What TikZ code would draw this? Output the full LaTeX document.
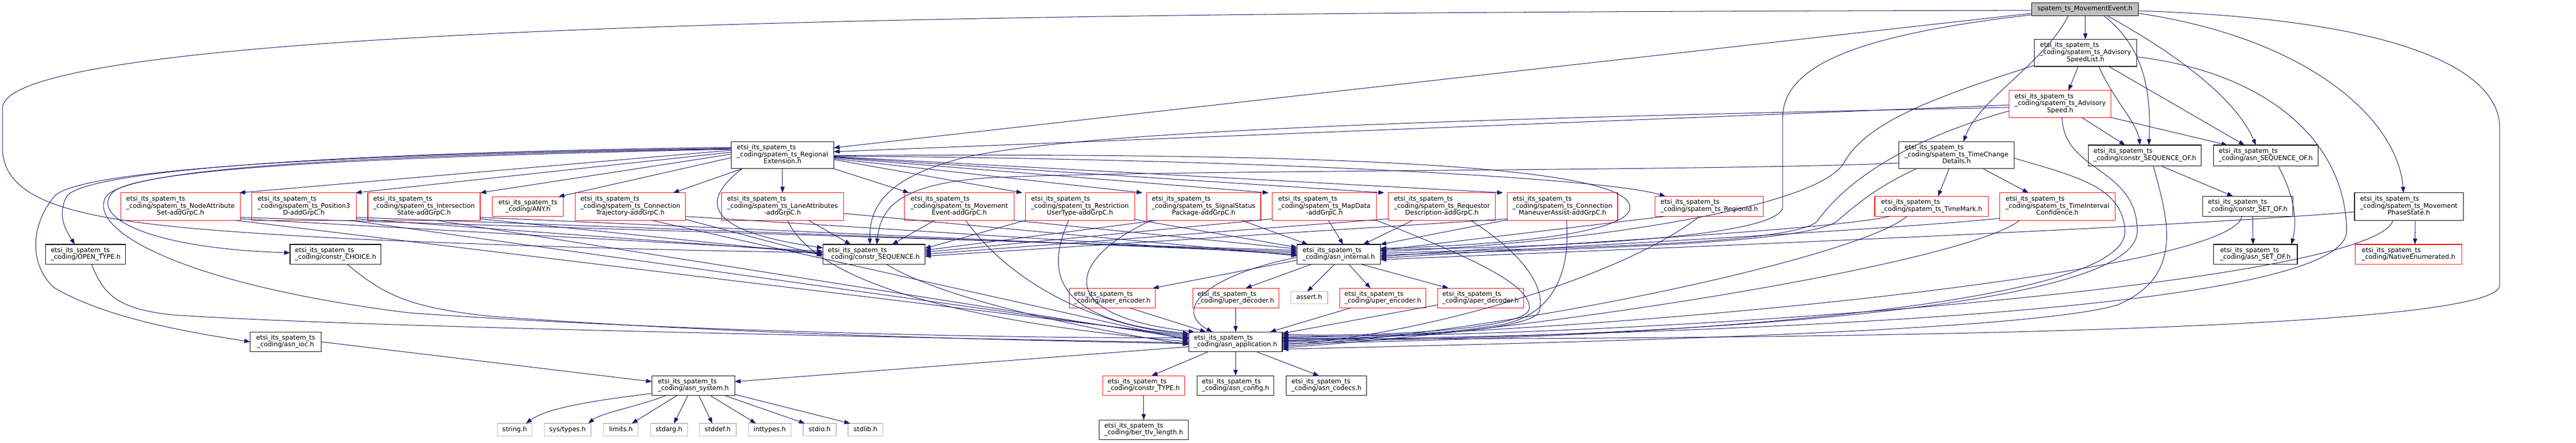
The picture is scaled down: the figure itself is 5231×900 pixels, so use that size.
\documentclass[tikz,border=0pt]{standalone}
\usepackage{fontspec}
\setmainfont{DejaVu Sans}
\usetikzlibrary{arrows.meta,calc}
\definecolor{edgec}{HTML}{191970}
\definecolor{redc}{HTML}{FF0000}
\definecolor{grayc}{HTML}{BFBFBF}
\newcommand\etsi{etsi\_its\_spatem\_ts}
\newcommand\lblone[1]{\begin{tabular}{@{}c@{}}#1\end{tabular}}
\newcommand\lbltwo[2]{\begin{tabular}{@{}l@{}}#1\\\multicolumn{1}{@{}c@{}}{#2}\end{tabular}}
\newcommand\lblthree[3]{\begin{tabular}{@{}l@{}}#1\\#2\\\multicolumn{1}{@{}c@{}}{#3}\end{tabular}}
\newcommand\bx[7]{\node[#6, minimum width={(#4-#2)*0.75pt}, minimum height={(#5-#3)*0.75pt}] (#1) at ({(#2+#4)/2},{(#3+#5)/2}) {#7};}
\tikzset{
  base/.style={rectangle, draw, inner sep=0pt, outer sep=0pt, line width=0.9pt,
    font=\fontsize{9.8}{10.65}\selectfont},
  blk/.style={base, draw=black},
  redb/.style={base, draw=redc},
  grayb/.style={base, draw=grayc},
  rootb/.style={base, draw=black, fill=grayc},
  edge/.style={draw=edgec, line width=0.8pt, -{Triangle[length=9pt,width=6.5pt]}},
}
\begin{document}
\begin{tikzpicture}[x=0.75pt,y=-0.75pt]
\fill[white] (0,0) rectangle (5231,900);
\useasboundingbox (0,0) rectangle (5231,900);
% rank 0-3
\bx{root}{4126}{6}{4342}{32}{rootb}{\lblone{spatem\_ts\_MovementEvent.h}}
\bx{asl}{4131}{80}{4339}{135}{blk}{\lblthree{\etsi}{\_coding/spatem\_ts\_Advisory}{SpeedList.h}}
\bx{as}{4080}{184}{4287}{239}{redb}{\lblthree{\etsi}{\_coding/spatem\_ts\_Advisory}{Speed.h}}
\bx{rext}{1485}{288}{1693}{343}{blk}{\lblthree{\etsi}{\_coding/spatem\_ts\_Regional}{Extension.h}}
\bx{tcd}{3856}{288}{4090}{343}{blk}{\lblthree{\etsi}{\_coding/spatem\_ts\_TimeChange}{Details.h}}
\bx{csqof}{4241}{295}{4470}{337}{blk}{\lbltwo{\etsi}{\_coding/constr\_SEQUENCE\_OF.h}}
\bx{asqof}{4495}{295}{4707}{337}{blk}{\lbltwo{\etsi}{\_coding/asn\_SEQUENCE\_OF.h}}
% rank 4
\bx{nas}{245}{392}{488}{448}{redb}{\lblthree{\etsi}{\_coding/spatem\_ts\_NodeAttribute}{Set-addGrpC.h}}
\bx{p3d}{511}{392}{723}{448}{redb}{\lblthree{\etsi}{\_coding/spatem\_ts\_Position3}{D-addGrpC.h}}
\bx{iss}{747}{392}{975}{448}{redb}{\lblthree{\etsi}{\_coding/spatem\_ts\_Intersection}{State-addGrpC.h}}
\bx{any}{1000}{400}{1144}{440}{redb}{\lbltwo{\etsi}{\_coding/ANY.h}}
\bx{ctr}{1168}{392}{1392}{448}{redb}{\lblthree{\etsi}{\_coding/spatem\_ts\_Connection}{Trajectory-addGrpC.h}}
\bx{lat}{1465}{392}{1713}{448}{redb}{\lblthree{\etsi}{\_coding/spatem\_ts\_LaneAttributes}{-addGrpC.h}}
\bx{mev}{1837}{392}{2059}{448}{redb}{\lblthree{\etsi}{\_coding/spatem\_ts\_Movement}{Event-addGrpC.h}}
\bx{rut}{2082}{392}{2304}{448}{redb}{\lblthree{\etsi}{\_coding/spatem\_ts\_Restriction}{UserType-addGrpC.h}}
\bx{ssp}{2328}{392}{2560}{448}{redb}{\lblthree{\etsi}{\_coding/spatem\_ts\_SignalStatus}{Package-addGrpC.h}}
\bx{map}{2584}{392}{2795}{448}{redb}{\lblthree{\etsi}{\_coding/spatem\_ts\_MapData}{-addGrpC.h}}
\bx{rqd}{2819}{392}{3037}{448}{redb}{\lblthree{\etsi}{\_coding/spatem\_ts\_Requestor}{Description-addGrpC.h}}
\bx{cma}{3061}{392}{3285}{448}{redb}{\lblthree{\etsi}{\_coding/spatem\_ts\_Connection}{ManeuverAssist-addGrpC.h}}
\bx{rid}{3361}{399}{3581}{440}{redb}{\lbltwo{\etsi}{\_coding/spatem\_ts\_RegionId.h}}
\bx{tmk}{3807}{399}{4038}{440}{redb}{\lbltwo{\etsi}{\_coding/spatem\_ts\_TimeMark.h}}
\bx{tic}{4061}{392}{4295}{448}{redb}{\lblthree{\etsi}{\_coding/spatem\_ts\_TimeInterval}{Confidence.h}}
\bx{csetof}{4473}{399}{4656}{440}{blk}{\lbltwo{\etsi}{\_coding/constr\_SET\_OF.h}}
\bx{mps}{4781}{392}{5002}{448}{blk}{\lblthree{\etsi}{\_coding/spatem\_ts\_Movement}{PhaseState.h}}
% rank 5
\bx{otype}{93}{497}{255}{537}{blk}{\lbltwo{\etsi}{\_coding/OPEN\_TYPE.h}}
\bx{choice}{589}{497}{774}{537}{blk}{\lbltwo{\etsi}{\_coding/constr\_CHOICE.h}}
\bx{cseq}{1671}{497}{1878}{537}{blk}{\lbltwo{\etsi}{\_coding/constr\_SEQUENCE.h}}
\bx{aint}{2634}{497}{2803}{537}{blk}{\lbltwo{\etsi}{\_coding/asn\_internal.h}}
\bx{asetof}{4495}{497}{4665}{537}{blk}{\lbltwo{\etsi}{\_coding/asn\_SET\_OF.h}}
\bx{nenum}{4783}{497}{4999}{537}{redb}{\lbltwo{\etsi}{\_coding/NativeEnumerated.h}}
% rank 6
\bx{aenc}{2171}{586}{2346}{626}{redb}{\lbltwo{\etsi}{\_coding/aper\_encoder.h}}
\bx{udec}{2422}{586}{2597}{626}{redb}{\lbltwo{\etsi}{\_coding/uper\_decoder.h}}
\bx{assert}{2621}{593}{2696}{618}{grayb}{\lblone{assert.h}}
\bx{uenc}{2721}{586}{2895}{626}{redb}{\lbltwo{\etsi}{\_coding/uper\_encoder.h}}
\bx{adec}{2919}{586}{3094}{626}{redb}{\lbltwo{\etsi}{\_coding/aper\_decoder.h}}
% rank 7
\bx{ioc}{508}{675}{652}{715}{blk}{\lbltwo{\etsi}{\_coding/asn\_ioc.h}}
\bx{aapp}{2414}{675}{2604}{715}{blk}{\lbltwo{\etsi}{\_coding/asn\_application.h}}
% rank 8
\bx{asys}{1324}{764}{1492}{804}{blk}{\lbltwo{\etsi}{\_coding/asn\_system.h}}
\bx{ctype}{2239}{764}{2406}{804}{redb}{\lbltwo{\etsi}{\_coding/constr\_TYPE.h}}
\bx{acfg}{2431}{764}{2587}{804}{blk}{\lbltwo{\etsi}{\_coding/asn\_config.h}}
\bx{acod}{2612}{764}{2775}{804}{blk}{\lbltwo{\etsi}{\_coding/asn\_codecs.h}}
% rank 9
\bx{string}{1010}{861}{1080}{887}{grayb}{\lblone{string.h}}
\bx{systypes}{1105}{861}{1200}{887}{grayb}{\lblone{sys/types.h}}
\bx{limits}{1226}{861}{1296}{887}{grayb}{\lblone{limits.h}}
\bx{stdarg}{1321}{861}{1396}{887}{grayb}{\lblone{stdarg.h}}
\bx{stddef}{1420}{861}{1495}{887}{grayb}{\lblone{stddef.h}}
\bx{inttypes}{1520}{861}{1606}{887}{grayb}{\lblone{inttypes.h}}
\bx{stdio}{1631}{861}{1698}{887}{grayb}{\lblone{stdio.h}}
\bx{stdlib}{1722}{861}{1793}{887}{grayb}{\lblone{stdlib.h}}
\bx{bertlv}{2232}{854}{2413}{894}{blk}{\lbltwo{\etsi}{\_coding/ber\_tlv\_length.h}}

% ===== edges: root
\draw[edge] (root) -- (asl);
\draw[edge] ($(root.south)+(-34,0)$) .. controls (4150,130) and (4020,200) .. ($(tcd.north)+(14,0)$);
\draw[edge] ($(root.east)+(0,8)$) .. controls (4700,80) and (4870,250) .. ($(mps.north)+(-11,0)$);
\draw[edge] ($(root.south)+(38,0)$) .. controls (4360,100) and (4368,200) .. ($(csqof.north)+(8,0)$);
\draw[edge] ($(root.south)+(45,0)$) .. controls (4420,110) and (4540,200) .. ($(asqof.north)+(-20,0)$);
\draw[edge] ($(root.west)+(0,8)$) -- ($(rext.east)+(0,-15)$);
\draw[edge] ($(root.west)+(0,2)$) .. controls (2500,25) and (5,30) .. (5,220) -- (5,300) .. controls (5,440) and (250,460) .. (700,485) .. controls (1150,505) and (1450,510) .. ($(cseq.west)+(0,-3)$);
\draw[edge] ($(root.west)+(0,11)$) .. controls (3780,70) and (3620,130) .. (3620,240) -- (3620,420) .. controls (3620,490) and (3050,505) .. ($(aint.east)+(0,-10)$);
\draw[edge] ($(root.east)+(0,3)$) .. controls (4900,40) and (5076,150) .. (5076,260) -- (5076,580) .. controls (5076,680) and (3500,690) .. ($(aapp.east)+(0,-6)$);
% asl
\draw[edge] ($(asl.south)+(-15,0)$) -- ($(as.north)+(17,0)$);
\draw[edge] ($(asl.south)+(27,0)$) .. controls (4290,200) and (4340,250) .. ($(csqof.north)+(-10,0)$);
\draw[edge] ($(asl.south)+(47,0)$) -- ($(asqof.north)+(-43,0)$);
\draw[edge] ($(asl.east)+(0,8)$) .. controls (4620,150) and (4765,300) .. (4765,470) .. controls (4765,640) and (3400,680) .. ($(aapp.east)+(0,-3)$);
\draw[edge] ($(asl.south west)+(0,-2)$) .. controls (3920,200) and (3790,250) .. (3745,330) .. controls (3690,430) and (3150,500) .. ($(aint.east)+(0,-6)$);
% as
\draw[edge] ($(as.west)+(0,2)$) -- ($(rext.east)+(0,-7)$);
\draw[edge] ($(as.west)+(0,7)$) .. controls (3000,240) and (2200,265) .. (1960,320) .. controls (1800,360) and (1765,420) .. ($(cseq.north)+(-8,0)$);
\draw[edge] ($(as.west)+(0,14)$) .. controls (3850,290) and (3740,380) .. (3690,450) .. controls (3640,500) and (3100,505) .. ($(aint.east)+(0,-2)$);
\draw[edge] ($(as.south)+(4,0)$) .. controls (4190,350) and (4340,340) .. (4340,470) .. controls (4340,640) and (3300,685) .. (aapp.east);
\draw[edge] ($(as.south)+(44,0)$) -- ($(csqof.north)+(-40,0)$);
\draw[edge] (as.south east) -- ($(asqof.north)+(-78,0)$);
% tcd
\draw[edge] ($(tcd.south)+(-15,0)$) -- ($(tmk.north)+(13,0)$);
\draw[edge] ($(tcd.south)+(54,0)$) -- ($(tic.north)+(-59,0)$);
\draw[edge] ($(tcd.west)+(0,16)$) .. controls (3500,348) and (2300,345) .. (2000,362) .. controls (1830,375) and (1788,420) .. ($(cseq.north)+(6,0)$);
\draw[edge] ($(tcd.south)+(-81,0)$) .. controls (3810,380) and (3765,420) .. (3730,450) .. controls (3660,500) and (3100,508) .. ($(aint.east)+(0,2)$);
\draw[edge] ($(tcd.east)+(0,6)$) .. controls (4220,360) and (4310,380) .. (4315,470) .. controls (4320,630) and (3300,690) .. ($(aapp.east)+(0,3)$);
% rid, tmk, tic
\draw[edge] ($(rid.south west)+(20,0)$) -- ($(aint.east)+(0,-8)$);
\draw[edge] ($(rid.south)+(-20,0)$) .. controls (3300,560) and (2900,680) .. ($(aapp.east)+(0,6)$);
\draw[edge] ($(tmk.south west)+(30,0)$) .. controls (3700,470) and (3100,498) .. ($(aint.east)+(0,5)$);
\draw[edge] ($(tmk.south west)+(65,0)$) .. controls (3780,520) and (3100,670) .. ($(aapp.east)+(0,9)$);
\draw[edge] ($(tic.south west)+(0,-4)$) .. controls (3800,470) and (3100,505) .. ($(aint.east)+(0,8)$);
\draw[edge] ($(tic.south west)+(40,0)$) .. controls (4000,530) and (3200,665) .. ($(aapp.east)+(0,12)$);
% sequence-of family
\draw[edge] ($(csqof.south)+(32,0)$) -- ($(csetof.north)+(-30,0)$);
\draw[edge] ($(csqof.south)+(17,0)$) .. controls (4400,440) and (4440,560) .. (4300,620) .. controls (4100,680) and (3000,700) .. ($(aapp.east)+(0,15)$);
\draw[edge] ($(asqof.south)+(25,0)$) .. controls (4660,400) and (4665,450) .. ($(asetof.north east)+(-12,0)$);
\draw[edge] ($(csetof.south)+(10,0)$) -- ($(asetof.north)+(-5,0)$);
\draw[edge] ($(csetof.south)+(-12,0)$) .. controls (4530,560) and (3200,680) .. ($(aapp.east)+(0,-9)$);
% mps
\draw[edge] ($(mps.south)+(13,0)$) -- ($(nenum.north)+(13,0)$);
\draw[edge] ($(mps.south)+(-32,0)$) .. controls (4820,580) and (3300,690) .. ($(aapp.east)+(0,-12)$);
\draw[edge] ($(mps.west)+(0,11)$) .. controls (4300,470) and (3100,515) .. ($(aint.east)+(0,11)$);
% rext left
\draw[edge] ($(rext.west)+(0,-10)$) -- ($(nas.north east)+(-2,0)$);
\draw[edge] ($(rext.west)+(0,-6)$) -- ($(p3d.north east)+(-1,0)$);
\draw[edge] ($(rext.west)+(0,-2)$) -- (iss.north east);
\draw[edge] ($(rext.west)+(0,5)$) -- ($(any.north east)+(-10,0)$);
\draw[edge] ($(rext.south west)+(22,0)$) -- ($(ctr.north east)+(-25,0)$);
\draw[edge] (rext) -- (lat);
\draw[edge] ($(rext.south west)+(22,0)$) .. controls (1420,410) and (1430,470) .. ($(cseq.west)+(0,-13)$);
\draw[edge] ($(rext.west)+(0,-16)$) .. controls (700,310) and (170,345) .. (135,400) .. controls (115,440) and (135,470) .. ($(otype.north)+(-22,0)$);
\draw[edge] ($(rext.west)+(0,-14)$) .. controls (700,312) and (150,345) .. (110,400) .. controls (60,460) and (60,540) .. (110,585) .. controls (220,650) and (400,678) .. (ioc.west);
\draw[edge] ($(rext.west)+(0,-12)$) .. controls (800,318) and (290,340) .. (230,390) .. controls (180,440) and (300,505) .. ($(choice.west)+(0,-3)$);
\draw[edge] ($(rext.west)+(0,-13)$) .. controls (750,315) and (260,340) .. (215,400) .. controls (175,470) and (380,580) .. (830,636) .. controls (1300,670) and (2000,688) .. ($(aapp.west)+(0,-8)$);
% rext right
\draw[edge] (rext.south east) -- ($(mev.north west)+(9,0)$);
\draw[edge] ($(rext.east)+(0,9)$) -- ($(rut.north west)+(-6,0)$);
\draw[edge] ($(rext.east)+(0,7)$) -- ($(ssp.north west)+(-8,0)$);
\draw[edge] ($(rext.east)+(0,5)$) -- ($(map.north west)+(-8,0)$);
\draw[edge] ($(rext.east)+(0,4)$) -- ($(rqd.north west)+(-8,0)$);
\draw[edge] ($(rext.east)+(0,3)$) -- ($(cma.north west)+(-9,0)$);
\draw[edge] ($(rext.east)+(0,2)$) .. controls (2500,322) and (3250,360) .. ($(rid.north west)+(21,0)$);
\draw[edge] ($(rext.east)+(0,1)$) .. controls (2600,310) and (3300,330) .. (3310,420) .. controls (3315,480) and (3000,500) .. ($(aint.east)+(0,-12)$);
% addGrpC -> cseq / aint / aapp
\draw[edge] ($(nas.south east)+(0,-3)$) -- ($(cseq.west)+(0,-6)$);
\draw[edge] ($(nas.south east)+(0,-6)$) -- ($(aint.west)+(0,-8)$);
\draw[edge] ($(nas.south east)+(-10,0)$) -- ($(aapp.west)+(0,-12)$);
\draw[edge] ($(p3d.south east)+(0,-3)$) -- ($(cseq.west)+(0,-3)$);
\draw[edge] ($(p3d.south east)+(0,-6)$) -- ($(aint.west)+(0,-5)$);
\draw[edge] ($(p3d.south east)+(-12,0)$) -- ($(aapp.west)+(0,-9)$);
\draw[edge] ($(iss.south east)+(0,-3)$) -- (cseq.west);
\draw[edge] ($(iss.south east)+(0,-6)$) -- ($(aint.west)+(0,-2)$);
\draw[edge] ($(iss.south east)+(-90,0)$) -- ($(aapp.west)+(0,-6)$);
\draw[edge] ($(ctr.east)+(0,20)$) -- ($(aint.west)+(0,1)$);
\draw[edge] ($(ctr.south east)+(0,-2)$) -- ($(cseq.west)+(0,3)$);
\draw[edge] ($(ctr.south)+(43,0)$) -- ($(aapp.west)+(0,-3)$);
\draw[edge] ($(lat.south)+(53,0)$) -- ($(cseq.north)+(-47,0)$);
\draw[edge] ($(lat.east)+(0,14)$) -- ($(aint.west)+(0,3)$);
\draw[edge] ($(lat.south)+(10,0)$) .. controls (1650,560) and (1900,650) .. (aapp.west);
\draw[edge] ($(mev.south)+(-50,0)$) -- ($(cseq.north)+(37,0)$);
\draw[edge] (mev.south east) -- ($(aint.west)+(0,-11)$);
\draw[edge] ($(mev.south)+(13,0)$) .. controls (2040,560) and (2200,660) .. ($(aapp.west)+(0,-15)$);
\draw[edge] (rut.south west) -- ($(cseq.east)+(0,-12)$);
\draw[edge] ($(rut.south east)+(0,-2)$) -- ($(aint.west)+(0,-14)$);
\draw[edge] ($(rut.south)+(-23,0)$) .. controls (2130,540) and (2120,650) .. ($(aapp.west)+(0,-17)$);
\draw[edge] ($(ssp.south west)+(22,0)$) -- ($(cseq.east)+(0,-8)$);
\draw[edge] ($(ssp.south)+(77,0)$) -- ($(aint.north west)+(22,0)$);
\draw[edge] ($(ssp.south west)+(10,0)$) .. controls (2180,520) and (2120,640) .. ($(aapp.north west)+(12,0)$);
\draw[edge] ($(map.south west)+(0,-3)$) -- ($(cseq.east)+(0,-4)$);
\draw[edge] ($(map.south)+(8,0)$) -- ($(aint.north)+(9,0)$);
\draw[edge] (map.south east) .. controls (2980,520) and (3115,580) .. (3105,630) .. controls (3090,670) and (2800,685) .. ($(aapp.east)+(0,-15)$);
\draw[edge] ($(rqd.south west)+(0,-3)$) -- (cseq.east);
\draw[edge] ($(rqd.south)+(-59,0)$) -- ($(aint.north east)+(-35,0)$);
\draw[edge] ($(rqd.south)+(58,0)$) .. controls (3100,520) and (3140,590) .. (3125,635) .. controls (3100,675) and (2800,690) .. ($(aapp.east)+(0,-8)$);
\draw[edge] ($(cma.south west)+(0,-3)$) -- ($(cseq.east)+(0,4)$);
\draw[edge] ($(cma.south west)+(0,-1)$) -- (aint.north east);
\draw[edge] ($(cma.south)+(8,0)$) .. controls (3190,560) and (3150,640) .. (3050,660) .. controls (2900,685) and (2700,690) .. ($(aapp.east)+(0,-1)$);
% lower part
\draw[edge] ($(otype.south)+(12,0)$) .. controls (210,600) and (240,628) .. (348,640) .. controls (700,665) and (1800,685) .. ($(aapp.west)+(0,2)$);
\draw[edge] ($(choice.south)+(23,0)$) .. controls (780,600) and (830,625) .. (995,643) .. controls (1500,680) and (2000,690) .. ($(aapp.west)+(0,4)$);
\draw[edge] ($(cseq.south)+(25,0)$) .. controls (1900,600) and (2150,660) .. ($(aapp.west)+(0,6)$);
\draw[edge] ($(aint.west)+(0,12)$) -- ($(aenc.north east)+(-5,0)$);
\draw[edge] ($(aint.south west)+(30,0)$) -- ($(udec.north)+(20,0)$);
\draw[edge] ($(aint.south)+(-8,0)$) -- ($(assert.north)+(-4,0)$);
\draw[edge] ($(aint.south)+(20,0)$) -- ($(uenc.north)+(-25,0)$);
\draw[edge] ($(aint.south east)+(-40,0)$) -- ($(adec.north)+(-65,0)$);
\draw[edge] ($(aint.west)+(0,6)$) .. controls (2450,560) and (2380,630) .. ($(aapp.north)+(-47,0)$);
\draw[edge] ($(aenc.south)+(35,0)$) -- ($(aapp.north)+(-60,0)$);
\draw[edge] (udec) -- (aapp);
\draw[edge] ($(uenc.south)+(-65,0)$) -- ($(aapp.north east)+(-25,0)$);
\draw[edge] ($(adec.south west)+(0,-6)$) -- ($(aapp.north east)+(0,3)$);
\draw[edge] ($(aapp.south west)+(40,0)$) -- ($(ctype.north)+(16,0)$);
\draw[edge] (aapp) -- (acfg);
\draw[edge] ($(aapp.south)+(42,0)$) -- ($(acod.north)+(-15,0)$);
\draw[edge] ($(aapp.west)+(0,10)$) -- ($(asys.east)+(0,-8)$);
\draw[edge] (ctype) -- (bertlv);
\draw[edge] (ioc.east) -- ($(asys.west)+(0,-8)$);
\draw[edge] ($(asys.west)+(0,16)$) .. controls (1200,815) and (1110,830) .. ($(string.north)+(23,0)$);
\draw[edge] ($(asys.south west)+(29,0)$) .. controls (1300,825) and (1220,840) .. ($(systypes.north)+(42,0)$);
\draw[edge] ($(asys.south west)+(51,0)$) -- ($(limits.north)+(22,0)$);
\draw[edge] ($(asys.south)+(-11,0)$) -- ($(stdarg.north)+(10,0)$);
\draw[edge] ($(asys.south)+(11,0)$) -- ($(stddef.north)+(-11,0)$);
\draw[edge] ($(asys.south)+(34,0)$) -- ($(inttypes.north)+(-28,0)$);
\draw[edge] ($(asys.south)+(63,0)$) -- ($(stdio.north)+(-30,0)$);
\draw[edge] ($(asys.south east)+(0,-2)$) -- ($(stdlib.north)+(-31,0)$);
\end{tikzpicture}
\end{document}
